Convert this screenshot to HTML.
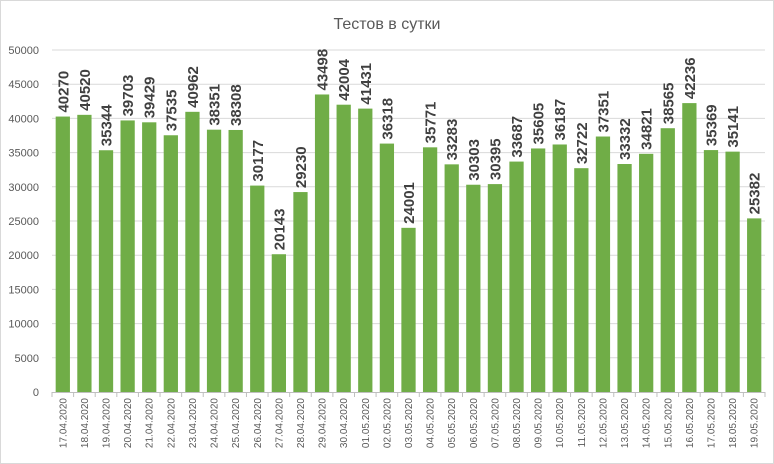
<!DOCTYPE html>
<html><head><meta charset="utf-8"><style>
body{margin:0;background:#fff;font-family:"Liberation Sans",sans-serif}
svg{display:block}
</style></head><body>
<svg width="774" height="464">
<rect x="0.5" y="0.5" width="773" height="463" fill="#fff" stroke="#d9d9d9"/>
<text x="387" y="29" text-anchor="middle" font-size="16" fill="#595959">Тестов в сутки</text>
<g id="grid"></g><g id="bars"></g><g id="labels"></g>
</svg>
<script>
const categories=["17.04.2020","18.04.2020","19.04.2020","20.04.2020","21.04.2020","22.04.2020","23.04.2020","24.04.2020","25.04.2020","26.04.2020","27.04.2020","28.04.2020","29.04.2020","30.04.2020","01.05.2020","02.05.2020","03.05.2020","04.05.2020","05.05.2020","06.05.2020","07.05.2020","08.05.2020","09.05.2020","10.05.2020","11.05.2020","12.05.2020","13.05.2020","14.05.2020","15.05.2020","16.05.2020","17.05.2020","18.05.2020","19.05.2020"];
const values=[40270,40520,35344,39703,39429,37535,40962,38351,38308,30177,20143,29230,43498,42004,41431,36318,24001,35771,33283,30303,30395,33687,35605,36187,32722,37351,33332,34821,38565,42236,35369,35141,25382];
const yTicks=[0,5000,10000,15000,20000,25000,30000,35000,40000,45000,50000];
const NS="http://www.w3.org/2000/svg";
const x0=52,x1=765,yb=392,yt=50,yMax=50000;
const step=(x1-x0)/categories.length;
const Y=v=>yb-(v/yMax)*(yb-yt);
const X=i=>x0+i*step;
function mk(t,a,p){const e=document.createElementNS(NS,t);for(const k in a)e.setAttribute(k,a[k]);p.appendChild(e);return e;}
const grid=document.getElementById('grid'),bars=document.getElementById('bars'),labels=document.getElementById('labels');
yTicks.forEach(v=>{
  if(v>0){const l=mk('line',{x1:x0,x2:x1,y1:Y(v),y2:Y(v),stroke:'#d9d9d9','stroke-width':1},grid);
  
  }
  const t=mk('text',{x:39,y:Y(v)+4,'text-anchor':'end','font-size':11,fill:'#595959'},grid);
  t.textContent=v;
  
  
});
const ax=mk('line',{x1:x0,x2:x1,y1:yb+0.5,y2:yb+0.5,stroke:'#bfbfbf'},grid);


for(let i=0;i<=categories.length;i++){
  const tk=mk('line',{x1:X(i),x2:X(i),y1:yb,y2:yb+5,stroke:'#bfbfbf'},grid);
  
  
}
const bw=step*0.66;
values.forEach((v,i)=>{
  const cx=X(i)+step/2;
  const r=mk('rect',{x:cx-bw/2,y:Y(v),width:bw,height:yb-Y(v),fill:'#70ad47'},bars);
  
  
  const t=mk('text',{transform:`translate(${cx+5.5},${Y(v)-4}) rotate(-90)`,'font-size':15,'font-weight':'bold',fill:'#404040'},labels);
  t.textContent=v;
  
  
  const d=mk('text',{transform:`translate(${cx+3.5},${yb+6}) rotate(-90)`,'text-anchor':'end','font-size':10,fill:'#595959'},labels);
  d.textContent=categories[i];
  
  
});
</script>
</body></html>
